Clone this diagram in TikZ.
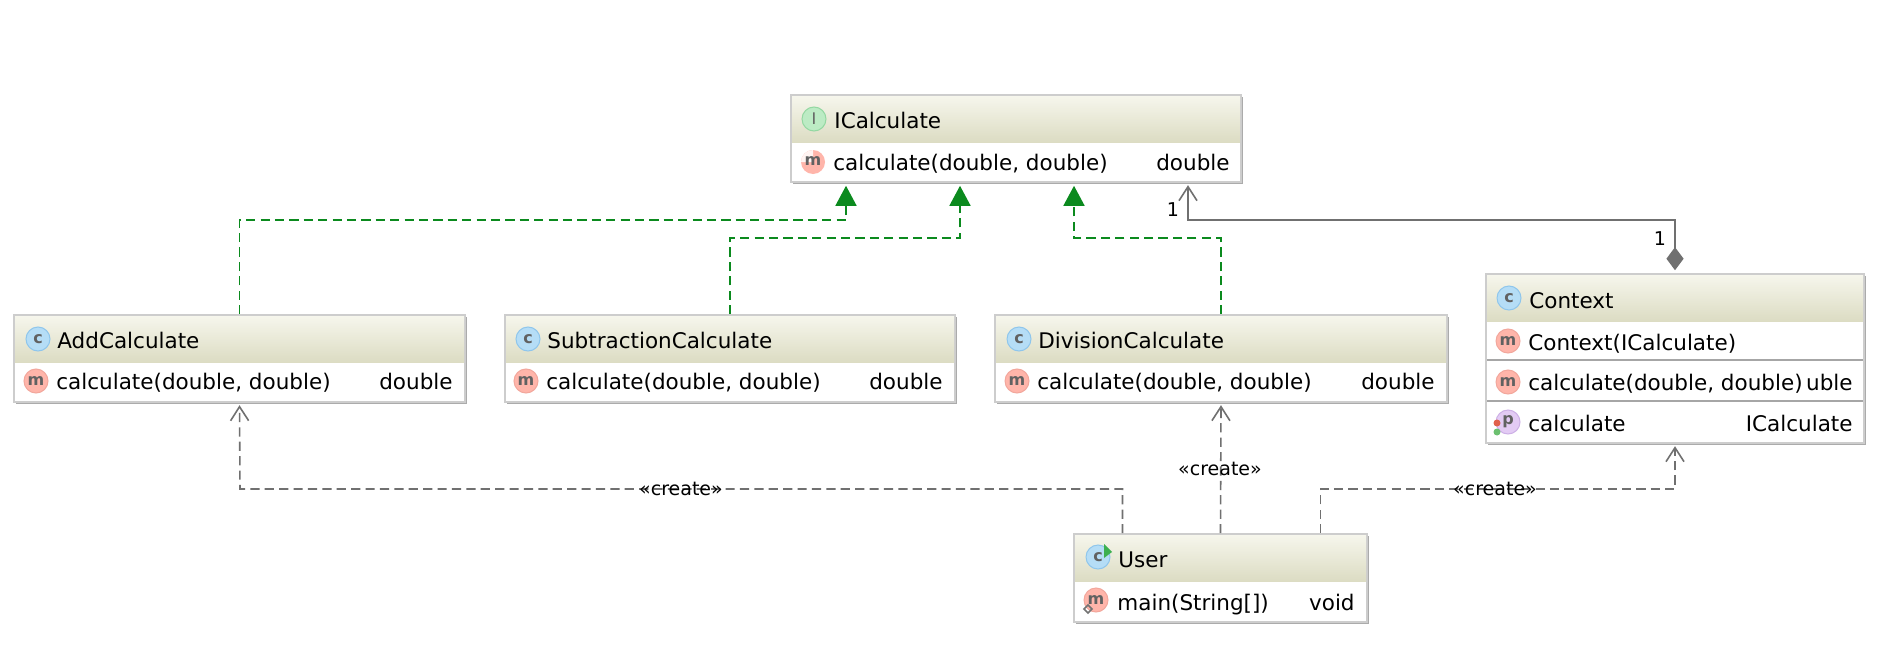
\documentclass[tikz,border=0pt]{standalone}
\usepackage{fontspec}
\setmainfont{DejaVu Sans}
\usetikzlibrary{arrows.meta}
\definecolor{edgegray}{HTML}{707070}
\definecolor{implgreen}{HTML}{0B8A1E}
\definecolor{boxborder}{HTML}{CDCDCD}
\definecolor{boxshadow}{HTML}{ABABAB}
\definecolor{headtop}{HTML}{F6F6EC}
\definecolor{headbot}{HTML}{DCDCC3}
\definecolor{classfill}{HTML}{B5DDF6}
\definecolor{classline}{HTML}{8FC6EC}
\definecolor{methfill}{HTML}{FFB5AA}
\definecolor{methline}{HTML}{F2A79C}
\definecolor{intffill}{HTML}{BCEBC4}
\definecolor{intfline}{HTML}{94D8A2}
\definecolor{propfill}{HTML}{E3CBF4}
\definecolor{propline}{HTML}{CDB0E6}
\definecolor{dotred}{HTML}{E0604C}
\definecolor{dotgreen}{HTML}{6CC070}
\definecolor{rungreen}{HTML}{3CB050}
\tikzset{
  boxbody/.style={draw=boxborder,line width=0.8pt,fill=white,inner sep=0pt,rectangle},
  txt/.style={anchor=base west,inner sep=0pt,font=\fontsize{10.75pt}{12pt}\selectfont,text=black},
  rtxt/.style={anchor=base east,inner sep=0pt,font=\fontsize{10.75pt}{12pt}\selectfont,text=black},
  lbl/.style={inner sep=0pt,font=\fontsize{9.5pt}{11pt}\selectfont,text=black},
  iconnode/.style={circle,inner sep=0pt,minimum size=12pt,line width=0.5pt,text=black!62,font=\bfseries\fontsize{8pt}{9pt}\selectfont},
  impl/.style={draw=implgreen,line width=0.8pt,dash pattern=on 4.6pt off 2.6pt,
    -{Triangle[length=10pt,width=10.5pt,fill=implgreen,color=implgreen,sep=0pt]},shorten >=1.5pt},
  dep/.style={draw=edgegray,line width=0.8pt,dash pattern=on 4.6pt off 2.6pt,
    -{Straight Barb[length=7pt,width=9pt,color=edgegray]},shorten >=1.2pt},
  assoc/.style={draw=edgegray,line width=0.8pt,
    {Diamond[length=11.5pt,width=8.6pt,fill=edgegray,color=edgegray]}-{Straight Barb[length=7pt,width=9pt,color=edgegray]},
    shorten >=1.2pt,shorten <=1.5pt},
  sepline/.style={draw=black!35,line width=0.7pt}
}
% name, x0, y0, x1, y1, header bottom
\newcommand{\umlclass}[6]{%
  \fill[boxshadow] (#2+2,#3+2) rectangle (#4+2,#5+2);
  \node[boxbody,minimum width={(#4-#2)*0.5pt},minimum height={(#5-#3)*0.5pt}] (#1) at ({(#2+#4)/2},{(#3+#5)/2}) {};
  \path[top color=headtop,bottom color=headbot] (#2+1,#3+1) rectangle (#4-1,#6);
}
\begin{document}
\begin{tikzpicture}[x=0.5pt,y=-0.5pt]
\useasboundingbox[fill=white] (0,0) rectangle (1880,664);

\umlclass{ical}{791}{95}{1241}{182}{142}
\umlclass{add}{14}{315}{465}{402}{362}
\umlclass{sub}{505}{315}{955}{402}{362}
\umlclass{div}{995}{315}{1447}{402}{362}
\umlclass{ctx}{1486}{274}{1864}{443}{321}
\umlclass{usr}{1074}{534}{1367}{622}{581}
\draw[sepline] (1487,360) -- (1863,360);
\draw[sepline] (1487,401) -- (1863,401);

% ICalculate
\node[iconnode,fill=intffill,draw=intfline,font=\rmfamily\fontsize{8pt}{9pt}\selectfont] (icalI) at (814,119) {I};
\node[txt] (icalN) at (834,128) {ICalculate};
\fill[methfill] (813,162) circle (12);
\fill[white!85!methfill] (813,162) -- (801,162) arc[start angle=180,end angle=270,radius=12] -- cycle;
\node[inner sep=0pt,text=black!62,font=\bfseries\fontsize{8pt}{9pt}\selectfont] (icalM) at (813,161) {m};
\node[txt] (icalT) at (833,170) {calculate(double, double)};
\node[rtxt] (icalR) at (1230,170) {double};

% AddCalculate
\node[iconnode,fill=classfill,draw=classline] (addC) at (38,339) {c};
\node[txt] (addN) at (57,348) {AddCalculate};
\node[iconnode,fill=methfill,draw=methline] (addM) at (36,381) {m};
\node[txt] (addT) at (56,389) {calculate(double, double)};
\node[rtxt] (addR) at (453,389) {double};

% SubtractionCalculate
\node[iconnode,fill=classfill,draw=classline] (subC) at (528,339) {c};
\node[txt] (subN) at (547,348) {SubtractionCalculate};
\node[iconnode,fill=methfill,draw=methline] (subM) at (526,381) {m};
\node[txt] (subT) at (546,389) {calculate(double, double)};
\node[rtxt] (subR) at (943,389) {double};

% DivisionCalculate
\node[iconnode,fill=classfill,draw=classline] (divC) at (1019,339) {c};
\node[txt] (divN) at (1038,348) {DivisionCalculate};
\node[iconnode,fill=methfill,draw=methline] (divM) at (1017,381) {m};
\node[txt] (divT) at (1037,389) {calculate(double, double)};
\node[rtxt] (divR) at (1435,389) {double};

% Context
\node[iconnode,fill=classfill,draw=classline] (ctxC) at (1509,298) {c};
\node[txt] (ctxN) at (1529,308) {Context};
\node[iconnode,fill=methfill,draw=methline] (ctxM) at (1508,341) {m};
\node[txt] (ctxT) at (1528,350) {Context(ICalculate)};
\node[iconnode,fill=methfill,draw=methline] (ctxM2) at (1508,382) {m};
\node[txt] (ctxT2) at (1528,390) {calculate(double, double)};
\node[rtxt] (ctxR2) at (1853,390) {uble};
\node[iconnode,fill=propfill,draw=propline] (ctxP) at (1508,422) {p};
\fill[dotred] (1497,423) circle (3.5);
\fill[dotgreen] (1497,432) circle (3.5);
\node[txt] (ctxT3) at (1528,431) {calculate};
\node[rtxt] (ctxR3) at (1853,431) {ICalculate};

% User
\node[iconnode,fill=classfill,draw=classline] (usrC) at (1098,557) {c};
\fill[rungreen] (1104,544) -- (1112,552) -- (1104,558) -- cycle;
\node[txt] (usrN) at (1118,567) {User};
\node[iconnode,fill=methfill,draw=methline] (usrM) at (1096,600) {m};
\draw[black!55,line width=0.8pt] (1088,605) -- (1092,609) -- (1088,613) -- (1084,609) -- cycle;
\node[txt] (usrT) at (1117,610) {main(String[])};
\node[rtxt] (usrR) at (1355,610) {void};

% connectors
\draw[impl] (add.north) |- (846,220) -- ([xshift=-85pt]ical.south);
\draw[impl] (sub.north) |- (960,238) -- ([xshift=-28pt]ical.south);
\draw[impl] (div.north) |- (1074,238) -- ([xshift=29pt]ical.south);
\draw[assoc] (ctx.north) -- (1675,220) -- (1188,220) -- ([xshift=86pt]ical.south);
\draw[dep] ([xshift=-49pt]usr.north) |- (240,489) -- (add.south);
\draw[dep] (usr.north) -- (div.south);
\draw[dep] ([xshift=50pt]usr.north) |- (1675,489) -- (ctx.south);

\node[lbl] (one1) at (1173,210) {1};
\node[lbl] (one2) at (1660,239) {1};
\node[lbl] (cr1) at (681,489) {«create»};
\node[lbl] (cr2) at (1220,469) {«create»};
\node[lbl] (cr3) at (1495,489) {«create»};
\end{tikzpicture}
\end{document}
